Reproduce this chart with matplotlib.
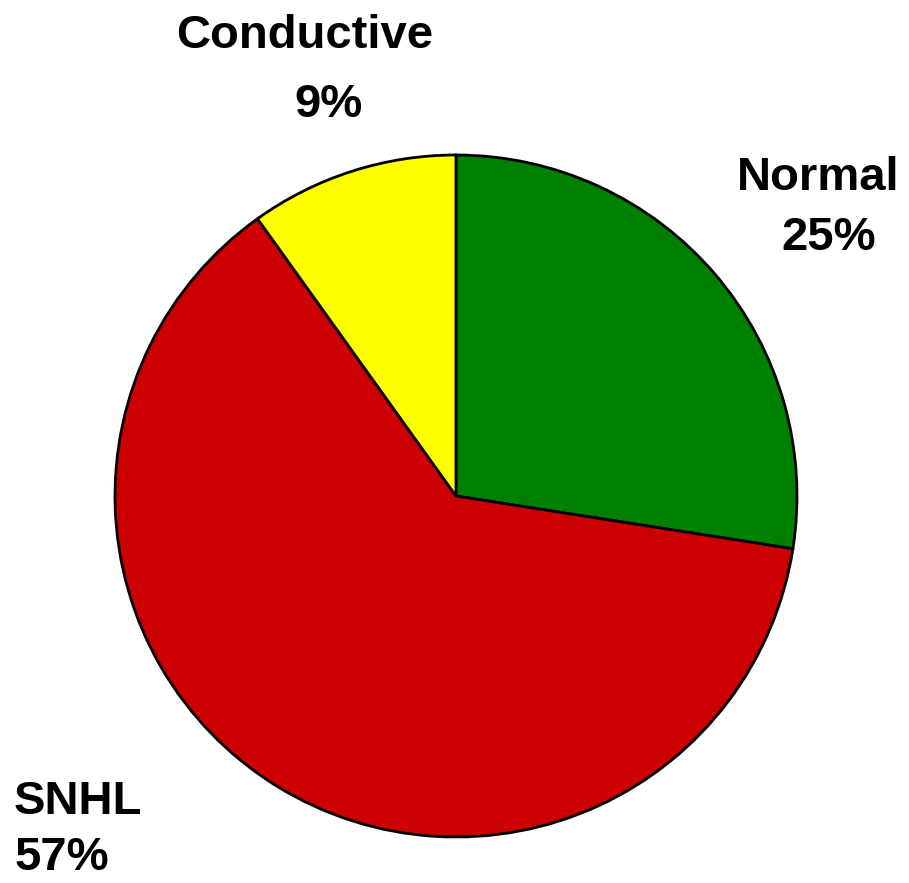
import matplotlib.pyplot as plt

# Hearing categories (labels show the source percentages)
categories = ['Normal', 'SNHL', 'Conductive']
values = [25, 57, 9]
colors = ['#008000', '#CC0000', '#FFFF00']

W, H = 909, 883

fig = plt.figure(figsize=(W / 100, H / 100), dpi=100)
ax = fig.add_axes([0, 0, 1, 1])

ax.pie(values, colors=colors, startangle=90, counterclock=False,
       center=(456, H - 496), radius=341, frame=True,
       wedgeprops=dict(edgecolor='black', linewidth=2))
ax.set_xlim(0, W)
ax.set_ylim(0, H)
ax.set_aspect('equal')
ax.axis('off')

font = dict(family=['Liberation Sans', 'DejaVu Sans'], fontsize=34,
            fontweight='bold', va='baseline')

# label lines: (text, x, baseline y in pixels, alignment)
label_lines = [
    ('Conductive', 305, 48, 'center'),
    ('9%', 328, 117, 'center'),
    ('Normal', 818, 190, 'center'),
    ('25%', 829, 250, 'center'),
    ('SNHL', 14, 814, 'left'),
    ('57%', 14, 870, 'left'),
]
for txt, x, y, ha in label_lines:
    ax.text(x, H - y, txt, ha=ha, **font)

fig.savefig('out.png', dpi=100)
